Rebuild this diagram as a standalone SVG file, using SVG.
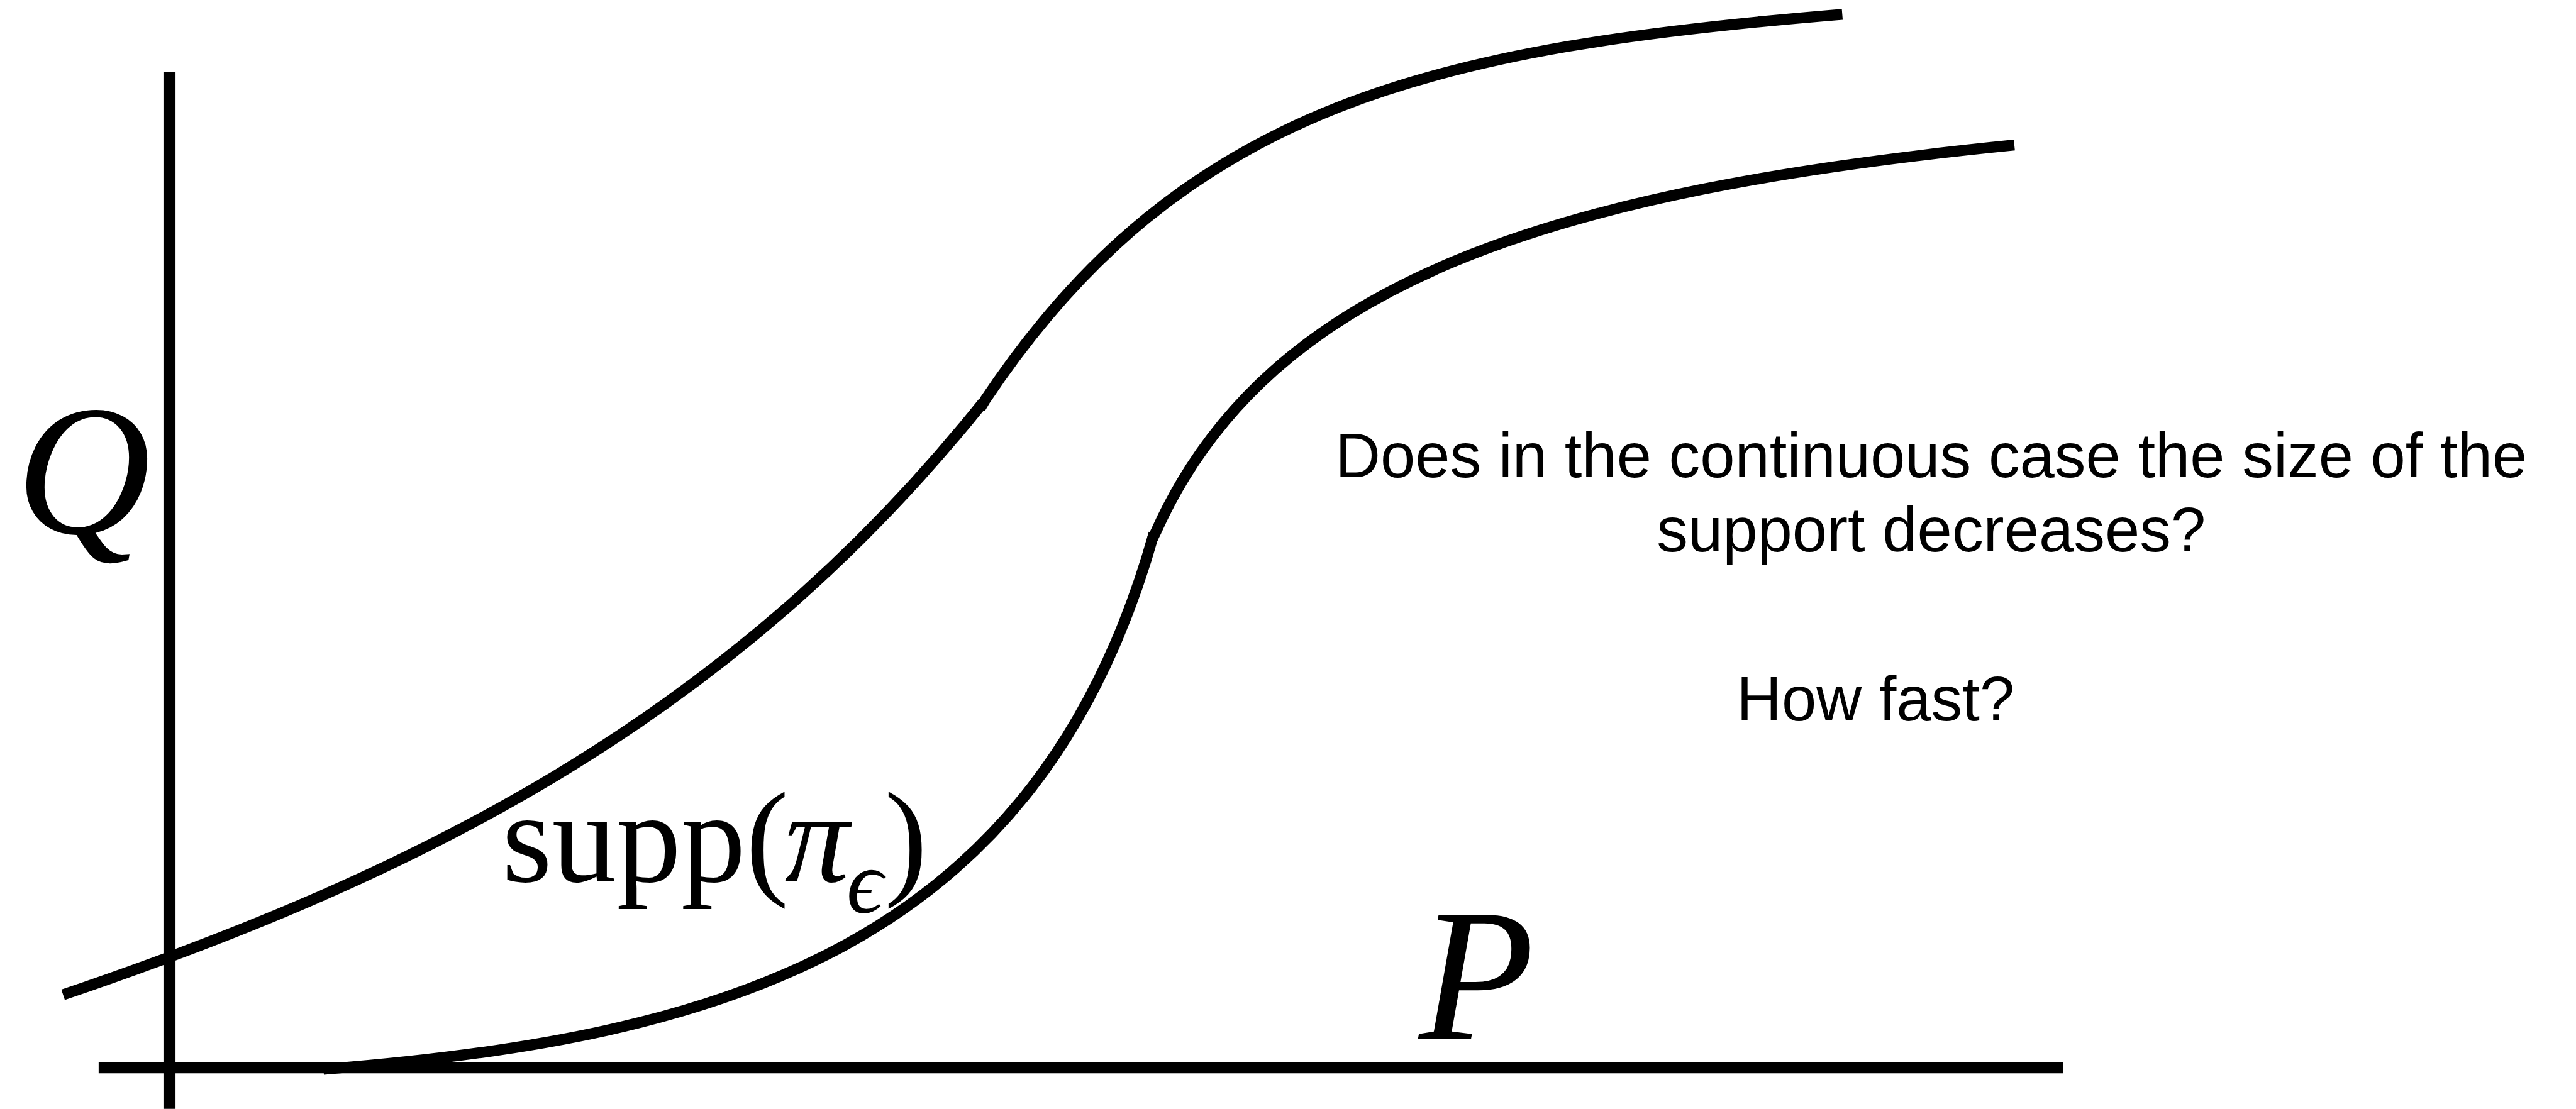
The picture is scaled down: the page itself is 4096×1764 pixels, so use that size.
<svg xmlns="http://www.w3.org/2000/svg" width="4096" height="1764" viewBox="0 0 4096 1764">
<style>
.ln{fill:none;stroke:#000;stroke-width:19;stroke-linecap:butt}
.ax{fill:none;stroke:#000;stroke-linecap:butt}
.math{font-family:"Liberation Serif","DejaVu Serif",serif;fill:#000}
.it{font-style:italic}
.txt{font-family:"Liberation Sans",Arial,sans-serif;font-size:109px;fill:#000;text-anchor:middle}
</style>
<rect width="4096" height="1764" fill="#fff"/>
<g transform="scale(0.912)">
<g id="axes">
<line class="ax" x1="295.5" y1="126" x2="295.5" y2="1934" stroke-width="21"/>
<line class="ax" x1="172" y1="1862.5" x2="3597" y2="1862.5" stroke-width="19"/>
</g>
<g id="curves">
<path class="ln" d="M110,1735 C707,1532 1262,1267 1714,702"/>
<path class="ln" d="M1709,712 L1718,697 C2065,176 2512,83 3212,25"/>
<path class="ln" d="M564,1865 C1265,1810 1810,1651 2012,930"/>
<path class="ln" d="M2009,940 L2016,926 C2213,487 2712,333 3512,253"/>
</g>
<g id="label-Q">
<text class="math it" x="28" y="930" font-size="325">Q</text>
</g>
<g id="label-P">
<text class="math it" x="2474" y="1812" font-size="330">P</text>
</g>
<g id="label-supp">
<text class="math" y="1537" font-size="225"><tspan x="875">supp(</tspan><tspan class="it" x="1368">π</tspan><tspan class="it" x="1476" y="1592" font-size="158">ϵ</tspan><tspan x="1542" y="1537">)</tspan></text>
</g>
<g id="question">
<text class="txt" x="3367" y="832">Does in the continuous case the size of the</text>
<text class="txt" x="3367" y="962">support decreases?</text>
<text class="txt" x="3270" y="1257">How fast?</text>
</g>
</g>
</svg>
